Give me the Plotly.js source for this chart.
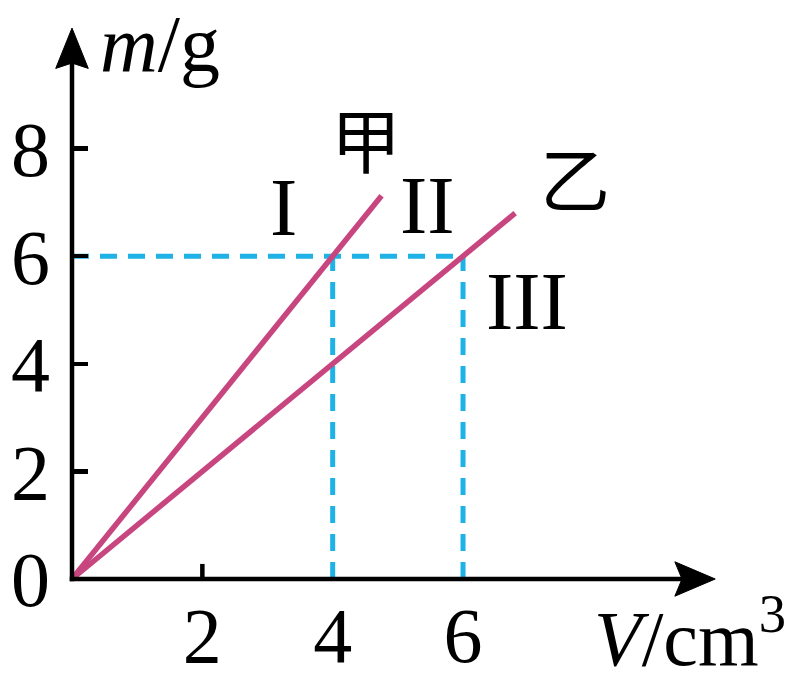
<!DOCTYPE html>
<html>
<head>
<meta charset="utf-8">
<script src="https://cdn.plot.ly/plotly-3.0.1.min.js"></script>
<style>html,body{margin:0;padding:0;background:#fff;}#chart{width:790px;height:677px;}</style>
</head>
<body>
<div id="chart"></div>
<script>
// ---- data ----
const volA = [0, 4.75];      // 甲 V (cm^3)
const massA = [0, 7.125];    // 甲 m (g)
const volB = [0, 6.8];       // 乙 V (cm^3)
const massB = [0, 6.8];      // 乙 m (g)
const guideH_x = [0, 6];
const guideH_y = [6, 6];
const guideV1_x = [4, 4];
const guideV1_y = [0, 6];
const guideV2_x = [6, 6];
const guideV2_y = [0, 6];
const xTickVals = [2, 4, 6];
const xTickText = ['2', '4', '6'];
const yTickVals = [0, 2, 4, 6, 8];
const yTickText = ['0', '2', '4', '6', '8'];
const seriesLabels = [
  {text: '甲', x: 4.51, y: 8.2, cjk: true},
  {text: '乙', x: 7.72, y: 7.49, cjk: true},
  {text: 'I', x: 3.24, y: 6.9},
  {text: 'II', x: 5.46, y: 6.94},
  {text: 'III', x: 6.98, y: 5.16}
];
const xTitle = '<i>V</i>/cm<sup>3</sup>';
const yTitle = '<i>m</i>/g';

// ---- style ----
const magenta = '#c8467f';
const cyan = '#1eb2e6';
const serif = 'Liberation Serif, Times New Roman, serif';
const xr = [-1.1048, 11.017];
const yr = [-1.8216, 10.762];
const xTip = 9.87, yTip = 10.24;

const guideLine = {color: cyan, width: 5, dash: '17px,11px'};
const dataLine = {color: magenta, width: 5.5};

const traces = [
  {x: guideH_x, y: guideH_y, mode: 'lines', line: guideLine, hoverinfo: 'skip'},
  {x: guideV1_x, y: guideV1_y, mode: 'lines', line: guideLine, hoverinfo: 'skip'},
  {x: guideV2_x, y: guideV2_y, mode: 'lines', line: guideLine, hoverinfo: 'skip'},
  {x: volA, y: massA, mode: 'lines', line: dataLine, name: '甲'},
  {x: volB, y: massB, mode: 'lines', line: dataLine, name: '乙'}
];

const black = 'black';
const shapes = [
  // x axis line
  {type: 'line', xref: 'x', yref: 'y', x0: -0.035, y0: 0, x1: xTip - 0.45, y1: 0, line: {color: black, width: 4.5}},
  // y axis line
  {type: 'line', xref: 'x', yref: 'y', x0: 0, y0: -0.04, x1: 0, y1: yTip - 0.6, line: {color: black, width: 4.5}},
  // x arrow head
  {type: 'path', xref: 'x', yref: 'y',
   path: `M ${xTip} 0 L ${xTip - 0.62} 0.32 L ${xTip - 0.51} 0 L ${xTip - 0.62} -0.32 Z`,
   fillcolor: black, line: {color: black, width: 1}},
  // y arrow head
  {type: 'path', xref: 'x', yref: 'y',
   path: `M 0 ${yTip} L 0.25 ${yTip - 0.75} L 0 ${yTip - 0.65} L -0.25 ${yTip - 0.75} Z`,
   fillcolor: black, line: {color: black, width: 1}},
  // x tick at 2
  {type: 'line', xref: 'x', yref: 'y', x0: 2, y0: 0, x1: 2, y1: 0.28, line: {color: black, width: 4.5}}
];

const annotations = seriesLabels.map(l => ({
  text: l.text, x: l.x, y: l.y, xref: 'x', yref: 'y', showarrow: false,
  xanchor: 'center', yanchor: 'middle',
  font: {family: l.cjk ? 'Noto Sans CJK SC' : serif, size: l.cjk ? 70 : 82, color: black}
}));
annotations.push({
  text: yTitle, xref: 'paper', yref: 'paper', x: 98 / 790, y: 1 - 44 / 677,
  xanchor: 'left', yanchor: 'middle', showarrow: false,
  font: {family: serif, size: 80, color: black}
});
annotations.push({
  text: xTitle, xref: 'paper', yref: 'paper', x: 592 / 790, y: 1 - 632 / 677,
  xanchor: 'left', yanchor: 'middle', showarrow: false,
  font: {family: serif, size: 78, color: black}
});

const layout = {
  width: 790, height: 677,
  margin: {l: 0, r: 0, t: 0, b: 0},
  paper_bgcolor: 'white', plot_bgcolor: 'white',
  showlegend: false,
  xaxis: {
    range: xr, anchor: 'free', position: 98 / 677,
    showgrid: false, zeroline: false, showline: false,
    tickmode: 'array', tickvals: xTickVals, ticktext: xTickText, ticks: '',
    ticklabelstandoff: 4,
    tickfont: {family: serif, size: 78, color: black}
  },
  yaxis: {
    range: yr, anchor: 'free', position: 72 / 790,
    showgrid: false, zeroline: false, showline: false,
    tickmode: 'array', tickvals: yTickVals, ticktext: yTickText,
    ticks: 'inside', ticklen: 15, tickwidth: 4.5, tickcolor: black,
    ticklabelstandoff: 22,
    tickfont: {family: serif, size: 78, color: black}
  },
  shapes: shapes,
  annotations: annotations
};

Plotly.newPlot('chart', traces, layout, {displayModeBar: false, staticPlot: true});
</script>
</body>
</html>
